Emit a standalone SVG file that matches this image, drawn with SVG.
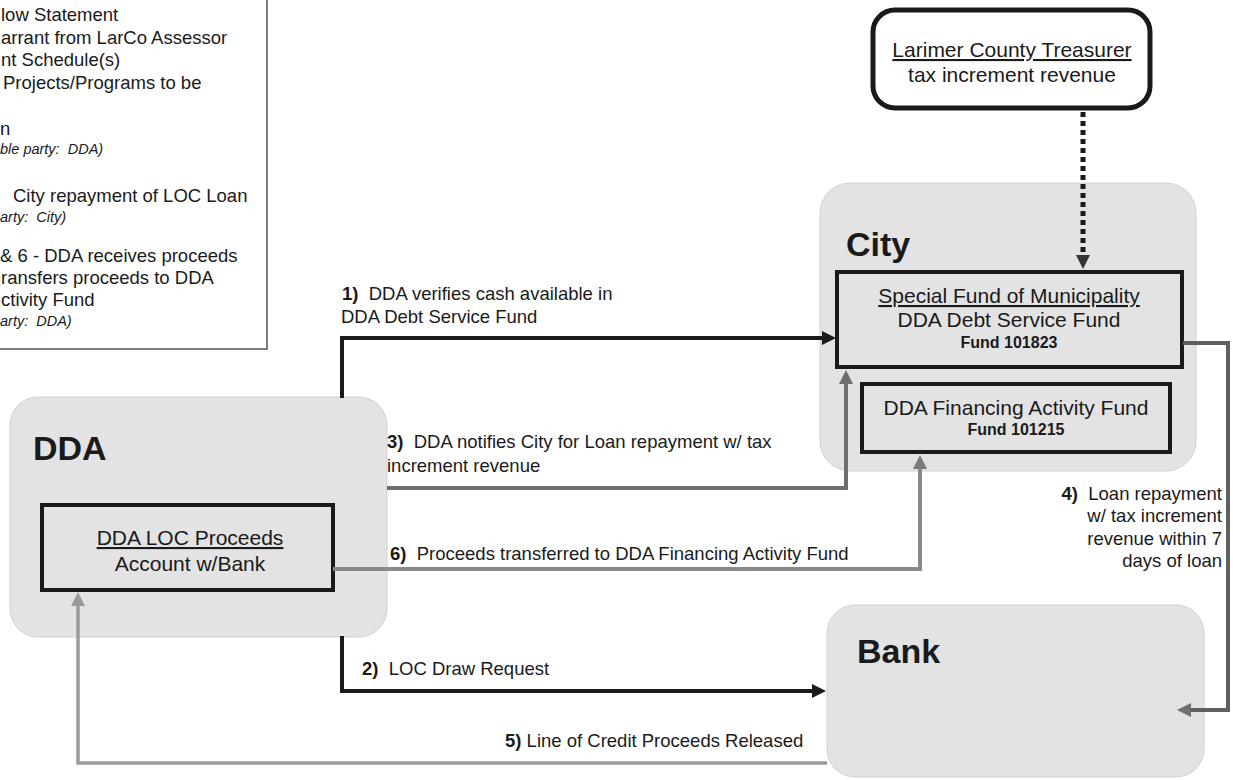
<svg xmlns="http://www.w3.org/2000/svg" width="1233" height="780" viewBox="0 0 1233 780">
<style>
text{font-family:"Liberation Sans",Arial,sans-serif;fill:#1a1a1a;white-space:pre}
.lbl{font-size:18.5px}
.note{font-size:18.5px}
.it{font-size:14.5px;font-style:italic}
.b{font-weight:bold}
.box{font-size:21px}
.head{font-size:34px;font-weight:bold}
.bg{fill:#e3e3e3;stroke:#d2d2d2;stroke-width:1}
.fund{fill:none;stroke:#1a1a1a;stroke-width:4}
.u{text-decoration:underline}
</style>
<defs>
<marker id="aBlack" markerUnits="userSpaceOnUse" markerWidth="16" markerHeight="16" refX="1" refY="7" orient="auto"><path d="M0,0 L14,7 L0,14 z" fill="#1a1a1a"/></marker>
<marker id="aG3" markerUnits="userSpaceOnUse" markerWidth="16" markerHeight="16" refX="1" refY="7" orient="auto"><path d="M0,0 L14,7 L0,14 z" fill="#6e6e6e"/></marker>
<marker id="aG6" markerUnits="userSpaceOnUse" markerWidth="16" markerHeight="16" refX="1" refY="7" orient="auto"><path d="M0,0 L14,7 L0,14 z" fill="#7a7a7a"/></marker>
<marker id="aG5" markerUnits="userSpaceOnUse" markerWidth="16" markerHeight="16" refX="1" refY="7" orient="auto"><path d="M0,0 L14,7 L0,14 z" fill="#9a9a9a"/></marker>
<marker id="aG4" markerUnits="userSpaceOnUse" markerWidth="16" markerHeight="16" refX="1" refY="7" orient="auto"><path d="M0,0 L14,7 L0,14 z" fill="#707070"/></marker>
<marker id="aDot" markerUnits="userSpaceOnUse" markerWidth="16" markerHeight="16" refX="1" refY="7" orient="auto"><path d="M0,0 L14,7 L0,14 z" fill="#333"/></marker>
</defs>

<g id="legend">
<rect x="-5" y="-5" width="272" height="354" fill="#fff" stroke="#555" stroke-width="1.5"/>
<text class="note" x="1" y="21">low Statement</text>
<text class="note" x="1" y="44">arrant from LarCo Assessor</text>
<text class="note" x="1" y="66">nt Schedule(s)</text>
<text class="note" x="3" y="89">Projects/Programs to be</text>
<text class="note" x="0" y="135">n</text>
<text class="it" x="0" y="154">ble party:  DDA)</text>
<text class="note" x="13" y="202">City repayment of LOC Loan</text>
<text class="it" x="0" y="222">arty:  City)</text>
<text class="note" x="0" y="262">&amp; 6 - DDA receives proceeds</text>
<text class="note" x="1" y="284">ransfers proceeds to DDA</text>
<text class="note" x="1" y="306">ctivity Fund</text>
<text class="it" x="0" y="326">arty:  DDA)</text>
</g>

<g id="city">
<rect class="bg" x="820" y="183" width="376" height="288" rx="30"/>
<text class="head" x="846" y="256">City</text>
</g>
<g id="dda">
<rect class="bg" x="10" y="397" width="377" height="240" rx="28"/>
<text class="head" x="33" y="460">DDA</text>
</g>
<g id="bank">
<rect class="bg" x="827" y="605" width="377" height="172" rx="28"/>
<text class="head" x="857" y="663">Bank</text>
</g>

<g id="treasurer">
<rect x="873" y="10" width="277" height="98" rx="22" fill="#fff" stroke="#1a1a1a" stroke-width="5"/>
<text class="box u" x="1012" y="57" text-anchor="middle">Larimer County Treasurer</text>
<text class="box" x="1012" y="82" text-anchor="middle">tax increment revenue</text>
</g>

<g id="debt-service-fund">
<rect class="fund" x="837" y="272" width="345" height="95"/>
<text class="box u" x="1009" y="303" text-anchor="middle">Special Fund of Municipality</text>
<text class="box" x="1009" y="327" text-anchor="middle">DDA Debt Service Fund</text>
<text class="b" font-size="16" x="1009" y="348" text-anchor="middle">Fund 101823</text>
</g>

<g id="financing-activity-fund">
<rect class="fund" x="862" y="384" width="308" height="68"/>
<text class="box" x="1016" y="415" text-anchor="middle">DDA Financing Activity Fund</text>
<text class="b" font-size="16" x="1016" y="435" text-anchor="middle">Fund 101215</text>
</g>

<g id="loc-proceeds">
<rect class="fund" x="42" y="505" width="291" height="85"/>
<text class="box u" x="190" y="545" text-anchor="middle">DDA LOC Proceeds</text>
<text class="box" x="190" y="571" text-anchor="middle">Account w/Bank</text>
</g>

<g id="connectors" fill="none">
<path d="M1083,112 V256" stroke="#1a1a1a" stroke-width="5" stroke-dasharray="5 4" marker-end="url(#aDot)"/>
<path d="M342,398 V338 H823" stroke="#1a1a1a" stroke-width="4" marker-end="url(#aBlack)"/>
<path d="M342,636 V691 H813" stroke="#1a1a1a" stroke-width="4" marker-end="url(#aBlack)"/>
<path d="M387,488 H846 V383" stroke="#6e6e6e" stroke-width="4" marker-end="url(#aG3)"/>
<path d="M333,569 H920 V468" stroke="#8a8a8a" stroke-width="4" marker-end="url(#aG6)"/>
<path d="M827,763 H78 V605" stroke="#9a9a9a" stroke-width="3.5" marker-end="url(#aG5)"/>
<path d="M1183,343 H1228 V710 H1190" stroke="#5f5f5f" stroke-width="4" marker-end="url(#aG4)"/>
</g>

<g id="labels">
<text class="lbl" x="342" y="300"><tspan class="b">1)</tspan>  DDA verifies cash available in</text>
<text class="lbl" x="341" y="323">DDA Debt Service Fund</text>
<text class="lbl" x="362" y="675"><tspan class="b">2)</tspan>  LOC Draw Request</text>
<text class="lbl" x="387" y="448"><tspan class="b">3)</tspan>  DDA notifies City for Loan repayment w/ tax</text>
<text class="lbl" x="387" y="472">increment revenue</text>
<text class="lbl" x="1222" y="500" text-anchor="end"><tspan class="b">4)</tspan>  Loan repayment</text>
<text class="lbl" x="1222" y="522" text-anchor="end">w/ tax increment</text>
<text class="lbl" x="1222" y="545" text-anchor="end">revenue within 7</text>
<text class="lbl" x="1222" y="567" text-anchor="end">days of loan</text>
<text class="lbl" x="505" y="747"><tspan class="b">5)</tspan> Line of Credit Proceeds Released</text>
<text class="lbl" x="390" y="560"><tspan class="b">6)</tspan>  Proceeds transferred to DDA Financing Activity Fund</text>
</g>
</svg>
